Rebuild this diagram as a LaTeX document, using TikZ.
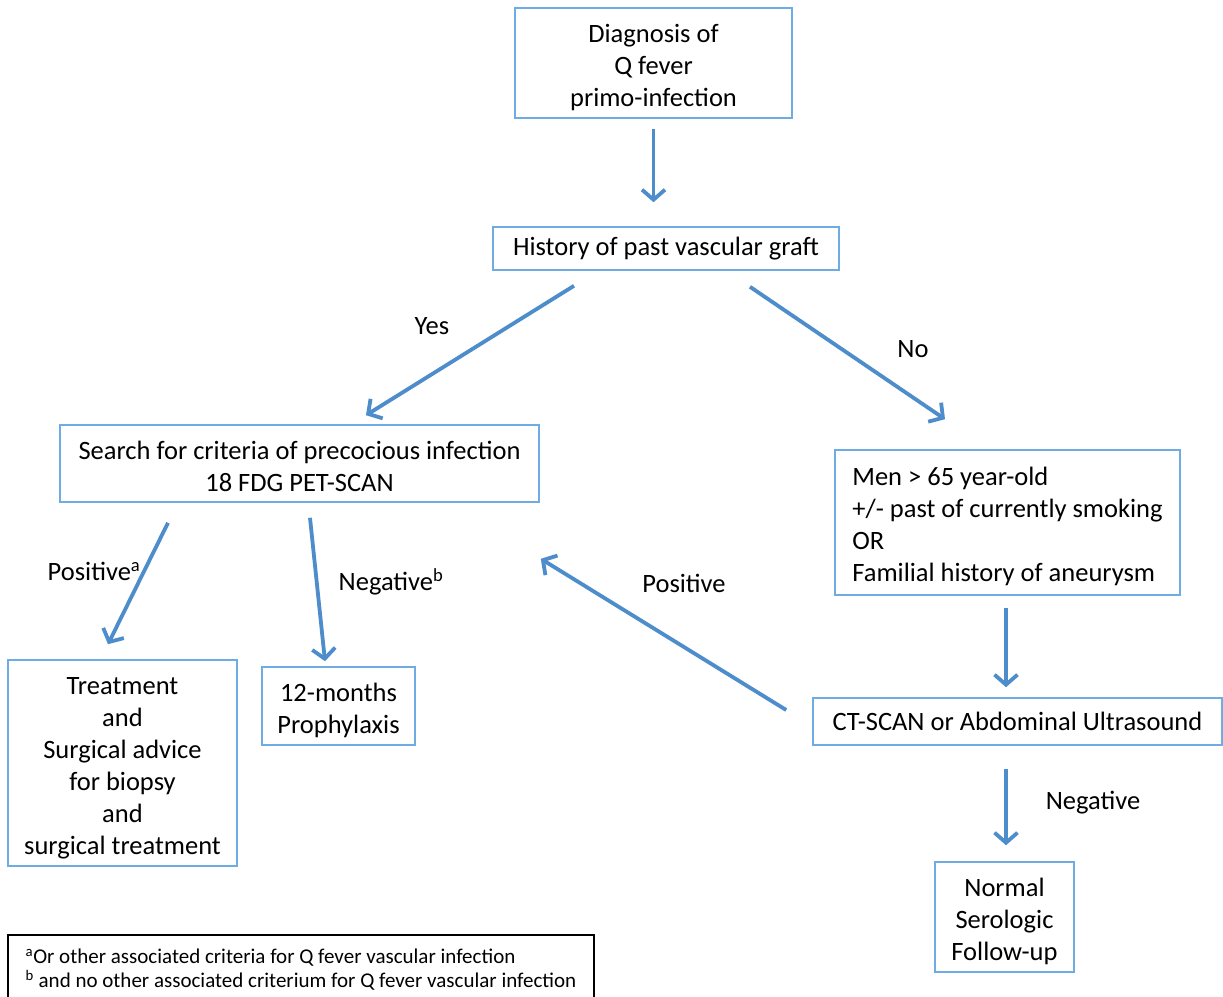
\documentclass[tikz,border=0pt]{standalone}
\usepackage{fontspec}
\setmainfont{Carlito}
\usetikzlibrary{arrows.meta,calc}
\definecolor{boxblue}{RGB}{112,172,228}
\definecolor{arrblue}{RGB}{78,141,203}
\newcommand{\toppad}{\rule{0pt}{27pt}}
\begin{document}
\begin{tikzpicture}[x=1pt,y=-1pt,
  every node/.style={font=\fontsize{26.5}{32}\selectfont, inner sep=0pt},
  box/.style={draw=boxblue, line width=1.6pt, align=center},
  conn/.style={draw=arrblue, line width=3.8pt, -{Straight Barb[length=10pt,width=23pt]}},
  lbl/.style={text=black}
]
\useasboundingbox (0,0) rectangle (1223,996);
\fill[white] (0,0) rectangle (1223,996);

\node[box, minimum width=277pt, minimum height=110pt] (diag) at (653.5,63) {\toppad Diagnosis of\\Q fever\\primo-infection};
\node[box, minimum width=346pt, minimum height=43pt] (hist) at (666,248.5) {History of past vascular graft};
\node[box, minimum width=479pt, minimum height=77pt] (search) at (299.5,463.5) {\rule{0pt}{24pt}Search for criteria of precocious infection\\18 FDG PET-SCAN};
\node[box, minimum width=345pt, minimum height=145pt, align=left] (men) at (1007.5,522.5) {\toppad Men > 65 year-old\\+/- past of currently smoking\\OR\\Familial history of aneurysm};
\node[box, minimum width=229pt, minimum height=206pt] (treat) at (122.5,763) {\toppad Treatment\\and\\Surgical advice\\for biopsy\\and\\surgical treatment};
\node[box, minimum width=153pt, minimum height=78pt] (proph) at (338.5,706) {\toppad 12-months\\Prophylaxis};
\node[box, minimum width=409pt, minimum height=47pt] (ct) at (1017.5,721.5) {CT-SCAN or Abdominal Ultrasound};
\node[box, minimum width=139pt, minimum height=110pt] (normal) at (1004.5,917) {\toppad Normal\\Serologic\\Follow-up};

\node[draw=black, line width=1.4pt, minimum width=586pt, minimum height=70pt, align=left,
  font=\fontsize{21}{24}\selectfont] (foot) at (301,970)
  {\textsuperscript{a}Or other associated criteria for Q fever vascular infection\\\textsuperscript{b} and no other associated criterium for Q fever vascular infection};

\draw[conn] ($(diag.south)+(0,10)$) -- ($(hist.north)+(-12.5,-24)$);
\draw[conn] ($(hist.south)+(-92,15)$) -- ($(search.north)+(66.5,-9)$);
\draw[conn] ($(hist.south)+(84,16)$) -- ($(men.north)+(-62.5,-30)$);
\draw[conn] ($(search.south)+(-131.5,20)$) -- ($(treat.north)+(-14.5,-15)$);
\draw[conn] ($(search.south)+(10.5,15)$) -- ($(proph.north)+(-13.5,-5)$);
\draw[conn] ($(ct.west)+(-26,-11.5)$) -- ($(search.south east)+(1,56)$);
\draw[conn] ($(men.south)+(-1.5,12)$) -- ($(ct.north)+(-11.5,-10)$);
\draw[conn] ($(ct.south)+(-11.5,23)$) -- ($(normal.north)+(1.5,-16)$);

\node[lbl] (yes) at (432,326) {Yes};
\node[lbl] (no) at (913,349) {No};
\node[lbl] (posa) at (94,571) {Positive\textsuperscript{a}};
\node[lbl] (negb) at (391,582) {Negative\textsuperscript{b}};
\node[lbl] (pos) at (684,583) {Positive};
\node[lbl] (neg) at (1093,803) {Negative};
\end{tikzpicture}
\end{document}
